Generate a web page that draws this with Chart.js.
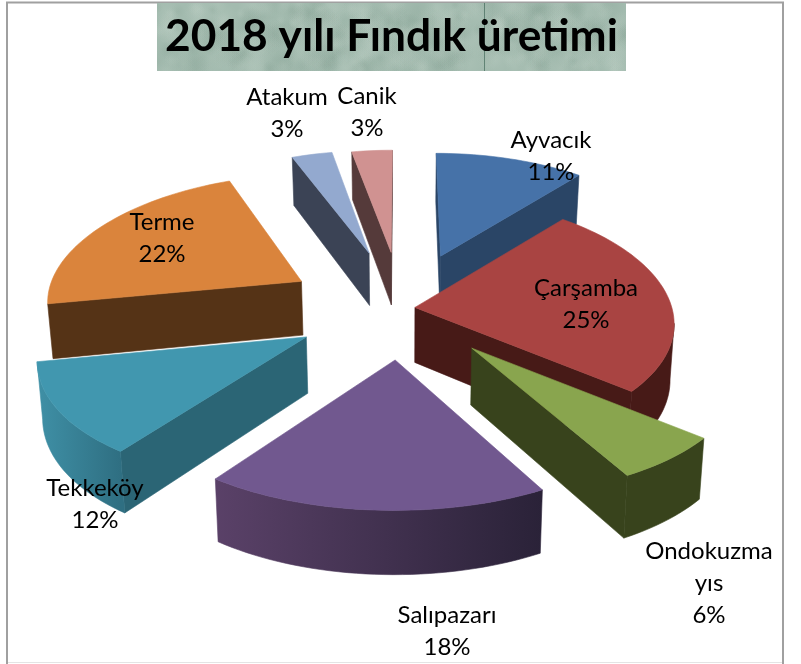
<!DOCTYPE html>
<html lang="tr"><head><meta charset="utf-8">
<style>html,body{margin:0;padding:0;background:#fff}#w{position:relative;width:801px;height:664px}canvas{display:block}</style>
<script src="https://cdn.jsdelivr.net/npm/chart.js@4"></script></head>
<body><div id="w"><canvas id="c" width="801" height="664"></canvas></div>
<script>
const titleText = '2018 yılı Fındık üretimi';
const categories = ['Ayvacık','Çarşamba','Ondokuzmayıs','Salıpazarı','Tekkeköy','Terme','Atakum','Canik'];
const shares = [11,25,6,18,12,22,3,3];
const labelLines = [['Ayvacık'],['Çarşamba'],['Ondokuzma','yıs'],['Salıpazarı'],['Tekkeköy'],['Terme'],['Atakum'],['Canik']];
const explode = [120,13,105,104,110,118,125,122];
const topColors = ['#4672A8','#A94442','#89A54E','#71588F','#4197AF','#DA843C','#93A9CF','#D09291'];
const wallColors = ['#2A4566','#471A17','#38431C','#3F2E54','#2B6575','#553316','#3B4355','#553A3A'];
const arcLeft = ['#2A4566','#471A17','#38431C','#5A4168','#3F90A6','#553316','#3B4355','#553A3A'];
const arcRight = ['#2A4566','#471A17','#38431C','#2A2238','#2F6F82','#553316','#3B4355','#553A3A'];
const labelX = [551,586,709,447,95,162,287,367];
const labelY = [140,288,551,615,488,222,97,96];

const CX=402, CY=308, K=.48, PY=.0004, PX=.0005, H=55, LINE=32;
function project(u,v){return {x:CX+u/(1-PX*v), y:CY+K*v/(1-PY*v), h:H/(1-PY*v)};}
function down(p){return {x:CX+(p.x-CX)*.985, y:p.y+p.h};}
function poly(ctx,pts,fill){ctx.beginPath();pts.forEach((p,i)=>i?ctx.lineTo(p.x,p.y):ctx.moveTo(p.x,p.y));ctx.closePath();ctx.fillStyle=fill;ctx.fill();ctx.strokeStyle=fill;ctx.lineWidth=.6;ctx.stroke();}
function hash(n){const s=Math.sin(n*12.9898)*43758.5453;return s-Math.floor(s);}

const pie3d={id:'pie3d',
 beforeDraw(chart){
  const c=chart.ctx;
  c.save();
  c.strokeStyle='#E4E4E4';c.lineWidth=1;c.beginPath();c.moveTo(8,662.5);c.lineTo(782,662.5);c.stroke();
  c.strokeStyle='#A0A0A0';c.lineWidth=2;
  c.beginPath();c.moveTo(7,664);c.lineTo(7,2.5);c.lineTo(783,2.5);c.lineTo(783,664);c.stroke();
  const x0=157,y0=3,w=469,h=68;
  c.fillStyle='#A3BBAF';c.fillRect(x0,y0,w,h);
  c.save();c.beginPath();c.rect(x0,y0,w,h);c.clip();
  for(let i=0;i<420;i++){
   const px=x0+hash(i+1)*w, py=y0+hash(i+500)*h, r=5+hash(i+900)*13, light=hash(i+1300)>.5;
   const g=c.createRadialGradient(px,py,0,px,py,r);
   g.addColorStop(0,light?'rgba(196,212,202,.20)':'rgba(128,156,142,.18)');
   g.addColorStop(1,light?'rgba(196,212,202,0)':'rgba(128,156,142,0)');
   c.fillStyle=g;c.fillRect(px-r,py-r,2*r,2*r);
  }
  c.fillStyle='rgba(60,100,85,.65)';c.fillRect(484,y0,1,h);
  c.restore();c.restore();
 },
 beforeDatasetDraw(chart,args){
  const c=chart.ctx, arcs=chart.getDatasetMeta(args.index).data;
  const order=arcs.map((a,i)=>i).sort((p,q)=>{
    const m=i=>{const e=arcs[i].getProps(['startAngle','endAngle']);return Math.sin((e.startAngle+e.endAngle)/2);};
    return m(p)-m(q);});
  c.save();
  for(const i of order){
   const e=arcs[i].getProps(['startAngle','endAngle','outerRadius']);
   const mid=(e.startAngle+e.endAngle)/2, ou=explode[i]*Math.cos(mid), ov=explode[i]*Math.sin(mid);
   const apex=project(ou,ov), rim=[];
   const n=Math.max(4,Math.ceil((e.endAngle-e.startAngle)/.03));
   for(let j=0;j<=n;j++){const a=e.startAngle+(e.endAngle-e.startAngle)*j/n;
     rim.push(project(ou+e.outerRadius*Math.cos(a),ov+e.outerRadius*Math.sin(a)));}
   const xs=rim.map(p=>p.x);
   const grad=c.createLinearGradient(Math.min(...xs),0,Math.max(...xs),0);
   grad.addColorStop(0,arcLeft[i]);grad.addColorStop(1,arcRight[i]);
   const first=rim[0], last=rim[rim.length-1];
   if(first.x<apex.x) poly(c,[apex,first,down(first),down(apex)],wallColors[i]);
   if(apex.x<last.x) poly(c,[last,apex,down(apex),down(last)],wallColors[i]);
   let run=[];
   const flush=()=>{if(run.length>1) poly(c,run.concat(run.map(down).reverse()),grad);run=[];};
   for(let j=0;j<rim.length-1;j++){
     if(rim[j+1].x<rim[j].x){ if(!run.length) run.push(rim[j]); run.push(rim[j+1]); }
     else flush();
   }
   flush();
   poly(c,[apex,...rim],arcs[i].options.backgroundColor);
  }
  c.restore();
  return false;
 },
 afterDatasetsDraw(chart){
  const c=chart.ctx;c.save();c.fillStyle='#000';c.textAlign='center';c.textBaseline='middle';
  c.font='24px Lato';
  const tot=shares.reduce((a,b)=>a+b,0);
  labelLines.forEach((ls,i)=>{
    const lines=ls.concat(Math.round(shares[i]/tot*100)+'%');
    lines.forEach((t,j)=>c.fillText(t,labelX[i],labelY[i]+j*LINE));
  });
  c.restore();
 }
};
new Chart(document.getElementById('c'),{
 type:'pie',
 data:{labels:categories,datasets:[{data:shares,backgroundColor:topColors,borderWidth:0,radius:257}]},
 options:{responsive:false,animation:false,
  layout:{padding:{right:18}},
  plugins:{legend:{display:false},tooltip:{enabled:false},
   title:{display:true,text:titleText,color:'#000',font:{family:'Lato',size:44.3,weight:'bold'},padding:{top:10,bottom:10}}}},
 plugins:[pie3d]
});
</script></body></html>
